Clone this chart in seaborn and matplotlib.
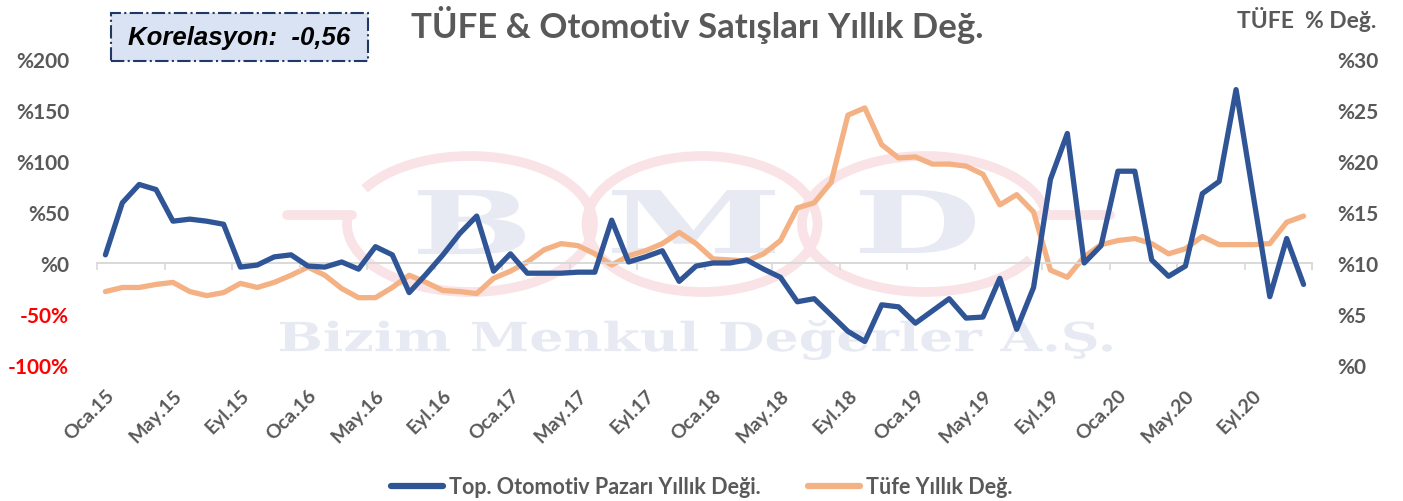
import numpy as np
import pandas as pd
import matplotlib
matplotlib.use("Agg")
import matplotlib.pyplot as plt
import seaborn as sns
from matplotlib.patches import Ellipse, Arc, Rectangle, PathPatch
from matplotlib.textpath import TextPath
from matplotlib.font_manager import FontProperties
from matplotlib.transforms import ScaledTranslation, Affine2D
from matplotlib.lines import Line2D

# ---- data -------------------------------------------------------------
months_tr = ["Oca", "Şub", "Mar", "Nis", "May", "Haz",
             "Tem", "Ağu", "Eyl", "Eki", "Kas", "Ara"]
years = [15, 16, 17, 18, 19, 20]
periods = [f"{m}.{y}" for y in years for m in months_tr]

# total automotive market, yearly change (%)
otomotiv = [8, 59, 77, 72, 41, 43, 41, 38, -4, -2, 6, 8,
            -3, -4, 1, -6, 16, 8, -29, -11, 8, 29, 46, -8,
            9, -10, -10, -10, -9, -9, 42, 1, 6, 12, -18, -3,
            0, 0, 3, -6, -14, -38, -35, -51, -67, -77, -41, -43,
            -59, -47, -35, -54, -53, -15, -65, -24, 82, 127, 0, 17,
            90, 90, 3, -13, -3, 68, 80, 170, 68, -33, 24, -21]

# CPI, yearly change (%)
tufe = [7.2, 7.6, 7.6, 7.9, 8.1, 7.2, 6.8, 7.1, 8.0, 7.6, 8.1, 8.8,
        9.6, 8.8, 7.5, 6.6, 6.6, 7.6, 8.8, 8.1, 7.3, 7.2, 7.0, 8.5,
        9.2, 10.1, 11.3, 11.9, 11.7, 10.9, 9.8, 10.7, 11.2, 11.9, 13.0, 11.9,
        10.4, 10.3, 10.2, 10.9, 12.2, 15.4, 15.9, 17.9, 24.5, 25.2, 21.6, 20.3,
        20.4, 19.7, 19.7, 19.5, 18.7, 15.7, 16.7, 15.0, 9.3, 8.6, 10.6, 11.8,
        12.2, 12.4, 11.9, 10.9, 11.4, 12.6, 11.8, 11.8, 11.8, 11.9, 14.0, 14.6]

left_ticks = [-100, -50, 0, 50, 100, 150, 200]
left_labels = ["-100%", "-50%", "%0", "%50", "%100", "%150", "%200"]
right_ticks = [0, 5, 10, 15, 20, 25, 30]
right_labels = ["%0", "%5", "%10", "%15", "%20", "%25", "%30"]

series_names = ["Top. Otomotiv Pazarı Yıllık Deği.", "Tüfe Yıllık Değ."]

# ---- style ------------------------------------------------------------
sns.set_theme(style="white")
plt.rcParams["font.family"] = ["Lato", "DejaVu Sans"]

GRAY = "#595959"
BLUE = "#2F5597"
ORANGE = "#F4B183"
AXIS_GRAY = "#D9D9D9"
PINK = "#FAE3E6"
LAVENDER = "#E8EAF3"

W, H = 1403, 502
fig = plt.figure(figsize=(W / 100, H / 100), dpi=100)


def fx(px):
    return px / W


def fy(py):
    return 1 - py / H


# ---- watermark ---------------------------------------------------------
def glyphs(s, left, right, top, bottom, family="DejaVu Serif"):
    tp = TextPath((0, 0), s, size=100,
                  prop=FontProperties(family=family, weight="bold"))
    bb = tp.get_extents()
    tr = (Affine2D().translate(-bb.x0, -bb.y0)
          .scale((fx(right) - fx(left)) / bb.width,
                 (fy(top) - fy(bottom)) / bb.height)
          .translate(fx(left), fy(bottom)))
    patch = PathPatch(tr.transform_path(tp), transform=fig.transFigure,
                      fc=LAVENDER, ec="none", zorder=-2)
    fig.add_artist(patch)


wm_lw = 7
fig.add_artist(Arc((fx(470), fy(225)), 246 / W, 136 / H, theta1=170, theta2=497,
                   transform=fig.transFigure, color=PINK, lw=wm_lw, zorder=-3))
fig.add_artist(Ellipse((fx(702), fy(225)), 231 / W, 136 / H, fill=False,
                       transform=fig.transFigure, ec=PINK, lw=wm_lw, zorder=-3))
fig.add_artist(Arc((fx(925), fy(225)), 246 / W, 136 / H, theta1=10, theta2=317,
                   transform=fig.transFigure, color=PINK, lw=wm_lw, zorder=-3))
fig.add_artist(Line2D([fx(287), fx(352)], [fy(216), fy(216)], color=PINK,
                      lw=wm_lw, transform=fig.transFigure, zorder=-3))
fig.add_artist(Line2D([fx(1040), fx(1110)], [fy(216), fy(216)], color=PINK,
                      lw=wm_lw, transform=fig.transFigure, zorder=-3))
glyphs("B", 418, 525, 191, 255)
glyphs("M", 612, 775, 191, 254)
glyphs("D", 860, 975, 191, 254)
glyphs("Bizim Menkul Değerler A.Ş.", 280, 1112, 321, 361)

# ---- axes -------------------------------------------------------------
ax = fig.add_axes([fx(97), fy(366), (1312 - 97) / W, (366 - 60) / H])
ax2 = ax.twinx()
ax.set_zorder(ax2.get_zorder() + 1)
ax.patch.set_visible(False)
ax2.patch.set_visible(False)

x = np.arange(len(periods))
df = pd.DataFrame({"idx": x, "otomotiv": otomotiv, "tufe": tufe})

sns.lineplot(data=df, x="idx", y="tufe", ax=ax2, color=ORANGE, lw=3.8,
             legend=False)
sns.lineplot(data=df, x="idx", y="otomotiv", ax=ax, color=BLUE, lw=3.8,
             legend=False, zorder=3)
for ln in ax.lines + ax2.lines:
    ln.set_solid_joinstyle("round")
    ln.set_solid_capstyle("round")

for a in (ax, ax2):
    a.set_xlabel("")
    a.set_ylabel("")
    for s in a.spines.values():
        s.set_visible(False)

# horizontal axis line runs along zero of the left scale
ax.spines["bottom"].set_visible(True)
ax.spines["bottom"].set_position(("data", 0))
ax.spines["bottom"].set_color(AXIS_GRAY)
ax.spines["bottom"].set_linewidth(1.4)
ax.spines["bottom"].set_zorder(1)

ax.set_xlim(-0.5, len(periods) - 0.5)
ax.set_xticks(x[::4])
ax.set_xticklabels(periods[::4])
ax.set_xticks(list(np.arange(-0.5, len(periods), 4)) + [len(periods) - 0.5],
              minor=True)
ax.tick_params(axis="x", which="major", length=0, labelbottom=False)
ax.tick_params(axis="x", which="minor", length=5, width=1.2,
               color=AXIS_GRAY, bottom=True, direction="out")

ax2.xaxis.set_visible(True)
ax2.tick_params(axis="x", which="both", length=0, labelbottom=True,
                pad=15, labelsize=14, labelcolor=GRAY)
offset = ScaledTranslation(12 / 100, 0, fig.dpi_scale_trans)
for lab in ax2.get_xticklabels():
    lab.set_rotation(45)
    lab.set_ha("right")
    lab.set_fontweight("bold")
    lab.set_transform(lab.get_transform() + offset)

ax.set_ylim(-100, 200)
ax.set_yticks(left_ticks)
ax.set_yticklabels(left_labels)
ax.tick_params(axis="y", length=0, pad=20, labelsize=15)
for lab, v in zip(ax.get_yticklabels(), left_ticks):
    lab.set_fontweight("bold")
    lab.set_color("#FF0000" if v < 0 else GRAY)

ax2.set_ylim(0, 30)
ax2.set_yticks(right_ticks)
ax2.set_yticklabels(right_labels)
ax2.tick_params(axis="y", length=0, pad=18, labelsize=15, labelcolor=GRAY)
for lab in ax2.get_yticklabels():
    lab.set_fontweight("bold")

# ---- texts ------------------------------------------------------------
fig.text(fx(697), fy(25), "TÜFE & Otomotiv Satışları Yıllık Değ.",
         ha="center", va="center", fontsize=25, fontweight="bold", color=GRAY)
fig.text(fx(1376), fy(19), "TÜFE  % Değ.", ha="right", va="center",
         fontsize=16.5, fontweight="bold", color=GRAY)

fig.add_artist(Rectangle((fx(111), fy(62)), (368 - 111) / W, (62 - 14) / H,
                         transform=fig.transFigure, fc="#DAE3F3",
                         ec="#1F3864", ls="-.", lw=1.5))
fig.text(fx(239), fy(38), "Korelasyon:  -0,56", ha="center", va="center",
         fontsize=18.5, fontweight="bold", fontstyle="italic", color="black",
         family=["Liberation Sans", "DejaVu Sans"])

handles = [Line2D([], [], color=BLUE, lw=4.5, solid_capstyle="round"),
           Line2D([], [], color=ORANGE, lw=4.5, solid_capstyle="round")]
fig.legend(handles, series_names, loc="center", bbox_to_anchor=(0.5, fy(488)),
           ncol=2, frameon=False, handlelength=2.42, handletextpad=0.28,
           columnspacing=2.2, labelcolor=GRAY,
           prop={"weight": "bold", "size": 15.5})

fig.savefig("out.png", dpi=100)
